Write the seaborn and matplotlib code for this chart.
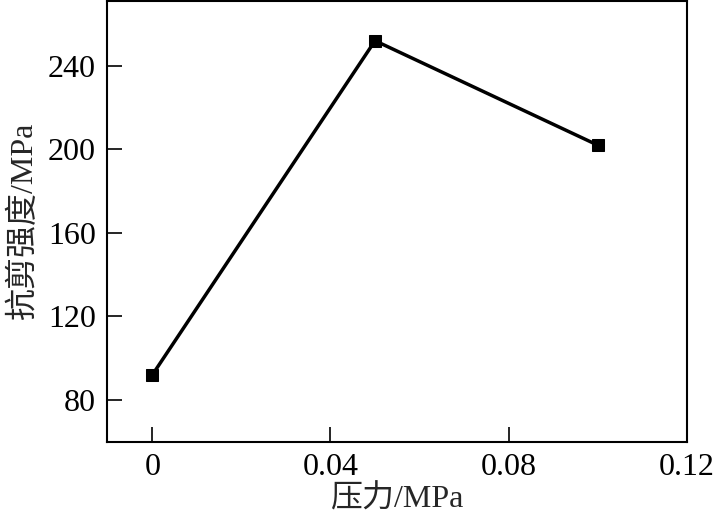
import numpy as np
import pandas as pd
import matplotlib
matplotlib.use("Agg")
import matplotlib.pyplot as plt
import seaborn as sns

# data
pressure = [0, 0.05, 0.1]
strength = [92, 252, 202]
xticks = [0, 0.04, 0.08, 0.12]
xticklabels = ["0", "0.04", "0.08", "0.12"]
yticks = [80, 120, 160, 200, 240]

sns.set_style("ticks")
plt.rcParams['font.family'] = ['Liberation Serif', 'Noto Sans CJK SC']
plt.rcParams['axes.unicode_minus'] = False

df = pd.DataFrame({"x": pressure, "y": strength})

fig = plt.figure(figsize=(7.17, 5.21), dpi=100)
ax = fig.add_axes([0.149, 0.152, 0.809, 0.846])

sns.lineplot(data=df, x="x", y="y", ax=ax, color="black", linewidth=2.5,
             marker="s", markersize=9, markeredgecolor="black")

ax.set_xlim(-0.0102, 0.12)
ax.set_ylim(60, 271)
ax.set_xticks(xticks)
ax.set_xticklabels(xticklabels)
ax.set_yticks(yticks)
ax.tick_params(direction="in", length=11, width=1.2, labelsize=23,
               top=False, right=False, colors="black", pad=8)
for s in ax.spines.values():
    s.set_linewidth(1.5)
    s.set_color("black")

ax.set_xlabel("压力/MPa", fontsize=23, labelpad=2)
ax.set_ylabel("抗剪强度/MPa", fontsize=23, labelpad=6)

fig.savefig("out.png", dpi=100)
